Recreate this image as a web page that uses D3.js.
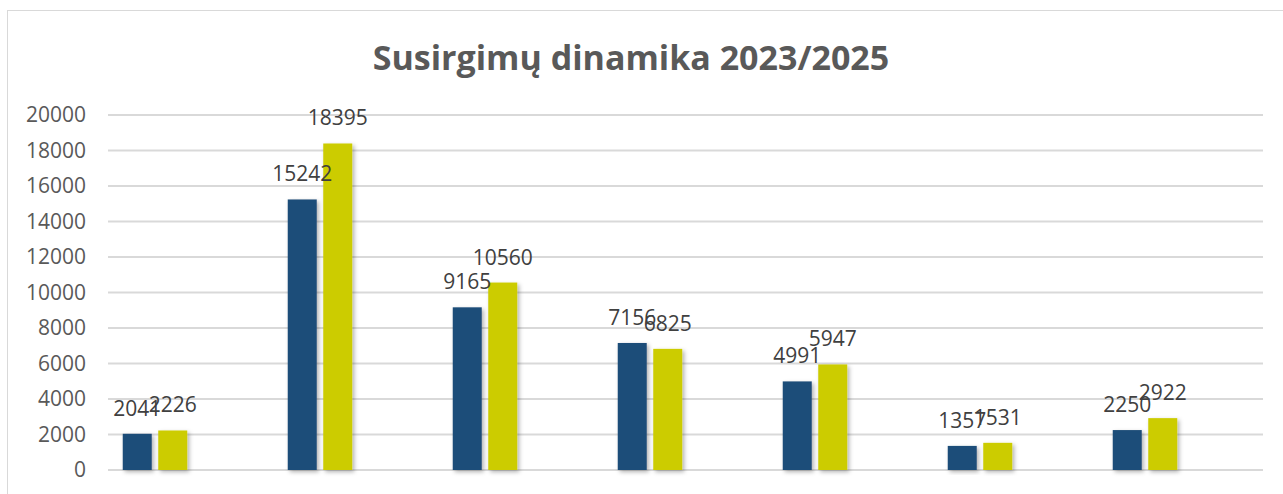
<!DOCTYPE html>
<html>
<head>
<meta charset="utf-8">
<script src="https://cdn.jsdelivr.net/npm/d3@7"></script>
<style>
  body { margin: 0; background: #fff; }
  svg { display: block; font-family: "Open Sans", sans-serif; }
</style>
</head>
<body>
<div id="chart"></div>
<script>
(function(){

  var width = 1283, height = 494;

  // data
  var categories = ["1", "2", "3", "4", "5", "6", "7"];
  var seriesNames = ["2023", "2025"];
  var values2023 = [2041, 15242, 9165, 7156, 4991, 1357, 2250];
  var values2025 = [2226, 18395, 10560, 6825, 5947, 1531, 2922];
  var yTicks = [0, 2000, 4000, 6000, 8000, 10000, 12000, 14000, 16000, 18000, 20000];
  var colors = ["#1f4e79", "#cccc00"];

  var rows = categories.map(function(c, i){
    return {cat: c, vals: [values2023[i], values2025[i]]};
  });

  var svg = d3.select("#chart").append("svg")
      .attr("width", width)
      .attr("height", height);

  var defs = svg.append("defs");
  var f = defs.append("filter").attr("id", "shadow")
      .attr("x", "-30%").attr("y", "-10%").attr("width", "160%").attr("height", "130%");
  f.append("feDropShadow")
      .attr("dx", 2).attr("dy", 2).attr("stdDeviation", 2)
      .attr("flood-color", "#000").attr("flood-opacity", 0.3);

  // chart area border
  svg.append("rect")
      .attr("x", 7.5).attr("y", 10.5)
      .attr("width", 1300).attr("height", 600)
      .attr("fill", "#fff")
      .attr("stroke", "#d9d9d9");

  svg.append("text")
      .attr("x", 631)
      .attr("y", 70)
      .attr("text-anchor", "middle")
      .style("font-size", "34px")
      .style("font-weight", "bold")
      .style("fill", "#595959")
      .text("Susirgimų dinamika 2023/2025");

  var y = d3.scaleLinear().domain([0, 20000]).range([470, 115]);

  var x0 = d3.scaleBand()
      .domain(categories)
      .range([72.5, 1227.5])
      .paddingInner(0.609)
      .paddingOuter(0.3045);

  var x1 = d3.scaleBand()
      .domain(seriesNames)
      .range([0, x0.bandwidth()])
      .paddingInner(0.183);

  // gridlines
  svg.append("g")
      .selectAll("line")
      .data(yTicks)
      .enter().append("line")
      .attr("x1", 108).attr("x2", 1263)
      .attr("y1", function(d){ return y(d); })
      .attr("y2", function(d){ return y(d); })
      .attr("stroke", "#d9d9d9")
      .attr("stroke-width", 2);

  // y axis labels
  var yAxis = d3.axisLeft(y).tickValues(yTicks).tickSize(0).tickPadding(0)
      .tickFormat(d3.format("d"));
  var ya = svg.append("g")
      .attr("transform", "translate(86,0)")
      .call(yAxis);
  ya.select(".domain").remove();
  ya.selectAll("text")
      .style("font-family", "'Open Sans', sans-serif")
      .style("font-size", "21px")
      .style("fill", "#595959");

  var groups = svg.append("g")
      .selectAll("g")
      .data(rows)
      .enter().append("g")
      .attr("transform", function(d){ return "translate(" + x0(d.cat) + ",0)"; });

  groups.selectAll("rect")
      .data(function(d){ return d.vals.map(function(v, i){ return {s: seriesNames[i], v: v, i: i}; }); })
      .enter().append("rect")
      .attr("x", function(d){ return x1(d.s); })
      .attr("y", function(d){ return y(d.v); })
      .attr("width", x1.bandwidth())
      .attr("height", function(d){ return y(0) - y(d.v); })
      .attr("fill", function(d){ return colors[d.i]; })
      .attr("filter", "url(#shadow)");

  groups.selectAll("text")
      .data(function(d){ return d.vals.map(function(v, i){ return {s: seriesNames[i], v: v, i: i}; }); })
      .enter().append("text")
      .attr("x", function(d){ return x1(d.s) + x1.bandwidth() / 2; })
      .attr("y", function(d){ return y(d.v) - 18; })
      .attr("text-anchor", "middle")
      .style("font-size", "21px")
      .style("fill", "#404040")
      .text(function(d){ return d.v; });

})();
</script>
</body>
</html>
